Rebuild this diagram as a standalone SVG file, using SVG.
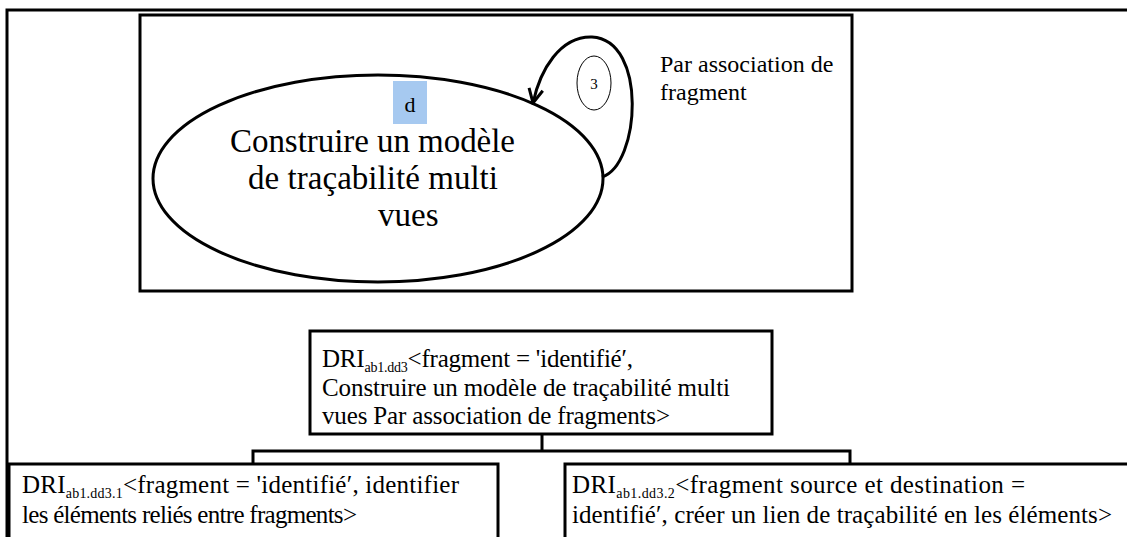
<svg xmlns="http://www.w3.org/2000/svg" width="1127" height="537" viewBox="0 0 1127 537">
<style>
.frame{fill:none;stroke:#000;stroke-width:3}
.box{fill:#fff;stroke:#000;stroke-width:3}
.conn{fill:none;stroke:#000;stroke-width:3}
.big{font-size:33px}
.lbl{font-size:24px}
.mid{font-size:25px}
.sub{font-size:14px}
</style>
<defs>
<marker id="arr" markerUnits="userSpaceOnUse" markerWidth="18" markerHeight="18" viewBox="0 0 18 18" refX="16" refY="9" orient="auto">
<path d="M2,2 L16,9 L2,16" fill="none" stroke="#000" stroke-width="3"/>
</marker>
</defs>
<rect width="1127" height="537" fill="#fff"/>
<g id="outer-frame">
<rect class="frame" x="7" y="10" width="1140" height="560"/>
</g>
<g id="process-frame">
<rect class="frame" x="140" y="15" width="712" height="276"/>
</g>
<g font-family="Liberation Serif, Times New Roman, serif" fill="#000">
<g id="process-node">
<ellipse cx="378" cy="178.5" rx="225" ry="103.5" fill="#fff" stroke="#000" stroke-width="3"/>
<rect x="393" y="81" width="34" height="43" fill="#A6C9F0"/>
<text x="410" y="112" font-size="22" text-anchor="middle">d</text>
<text class="big" x="230" y="152" textLength="285">Construire un modèle</text>
<text class="big" x="248" y="189" textLength="250">de traçabilité multi</text>
<text class="big" x="378" y="226">vues</text>
</g>
<g id="connectors">
<path class="conn" d="M602,177 C640,165 648,40 592,37 C560,36 540,70 533,103" marker-end="url(#arr)"/>
<path class="conn" d="M542,434 V451 M253,464 V451 H850 V464"/>
</g>
<g id="loop-label">
<ellipse cx="594" cy="83" rx="17" ry="27" fill="#fff" stroke="#000" stroke-width="1"/>
<text x="594" y="89" font-size="15" text-anchor="middle">3</text>
</g>
<g id="strategy-label">
<text class="lbl" x="660" y="72">Par association de</text>
<text class="lbl" x="660" y="100">fragment</text>
</g>
<g id="dri-root">
<rect class="box" x="310" y="331" width="462" height="103"/>
<text class="mid" x="322" y="367" textLength="311">DRI<tspan class="sub" dy="5">ab1.dd3</tspan><tspan dy="-5">&lt;fragment = 'identifié′,</tspan></text>
<text class="mid" x="322" y="396" textLength="408">Construire un modèle de traçabilité multi</text>
<text class="mid" x="322" y="424" textLength="348">vues Par association de fragments&gt;</text>
</g>
<g id="dri-child-1">
<rect class="box" x="9" y="464" width="489" height="100"/>
<text class="mid" x="22" y="493" textLength="437">DRI<tspan class="sub" dy="5">ab1.dd3.1</tspan><tspan dy="-5">&lt;fragment = 'identifié′, identifier</tspan></text>
<text class="mid" x="22" y="523" textLength="335">les éléments reliés entre fragments&gt;</text>
</g>
<g id="dri-child-2">
<rect class="box" x="565" y="464" width="600" height="100"/>
<text class="mid" x="572" y="493" textLength="453">DRI<tspan class="sub" dy="5">ab1.dd3.2</tspan><tspan dy="-5">&lt;fragment source et destination  =</tspan></text>
<text class="mid" x="572" y="523" textLength="540">identifié′, créer un lien de traçabilité en les éléments&gt;</text>
</g>
</g>
</svg>
